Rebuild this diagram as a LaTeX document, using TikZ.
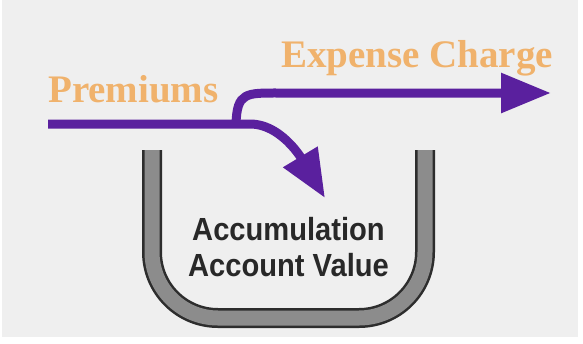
\documentclass[tikz,border=0pt]{standalone}
\usepackage{fontspec}
\setmainfont{Liberation Serif}
\newfontfamily\acctfont[FakeStretch=0.91]{Liberation Sans}
\usetikzlibrary{arrows.meta}
\definecolor{bggray}{RGB}{239,239,239}
\definecolor{flowpurple}{RGB}{90,32,158}
\definecolor{labelorange}{RGB}{240,178,108}
\definecolor{bucketfill}{RGB}{140,140,140}
\definecolor{bucketedge}{RGB}{45,45,45}
\definecolor{acctgray}{RGB}{40,40,40}
\tikzset{
  flow/.style={draw=flowpurple, line width=9pt, line cap=butt},
  flowhead/.style={-{Triangle[length=#1, width=38pt]}},
  flowlabel/.style={text=labelorange, font=\fontsize{39}{41}\selectfont\bfseries, inner sep=0pt, anchor=base west},
  acctlabel/.style={text=acctgray, font=\acctfont\fontsize{32}{36}\selectfont\bfseries, align=center, inner sep=0pt},
  bucketout/.style={draw=bucketedge, line width=20pt, rounded corners=66pt, line cap=butt},
  bucketin/.style={draw=bucketfill, line width=15pt, rounded corners=66pt, line cap=butt}
}
\begin{document}
\begin{tikzpicture}[x=1pt, y=-1pt]
\useasboundingbox (0,0) rectangle (583,343);
\fill[white] (0,0) rectangle (583,343);
\fill[bggray] (2,0) rectangle (578,337);

% bucket
\coordinate (bucketL) at (152,150);
\coordinate (bucketR) at (425,150);
\draw[bucketout] (bucketL) -- (152,318) -- (425,318) -- (bucketR);
\draw[bucketin] (bucketL) -- (152,318) -- (425,318) -- (bucketR);

% labels
\node[flowlabel] (premiums) at (48,102) {Premiums};
\node[flowlabel] (expense) at (281,67) {Expense Charge};
\node[acctlabel] (account) at (288.5,247) {Accumulation\\Account Value};

% flows
\coordinate (inflow) at (48,124);
\coordinate (split) at (236,124);
\coordinate (tipdown) at (325,198);
\coordinate (tipright) at (551,93);
\draw[flow, flowhead=50pt] (split) .. controls (237,92) and (246,93) .. (280,93) -- (tipright);
\draw[flow, flowhead=48pt] (inflow) -- (250,124) .. controls (285,124) and (307,168) .. (tipdown);
\end{tikzpicture}
\end{document}
